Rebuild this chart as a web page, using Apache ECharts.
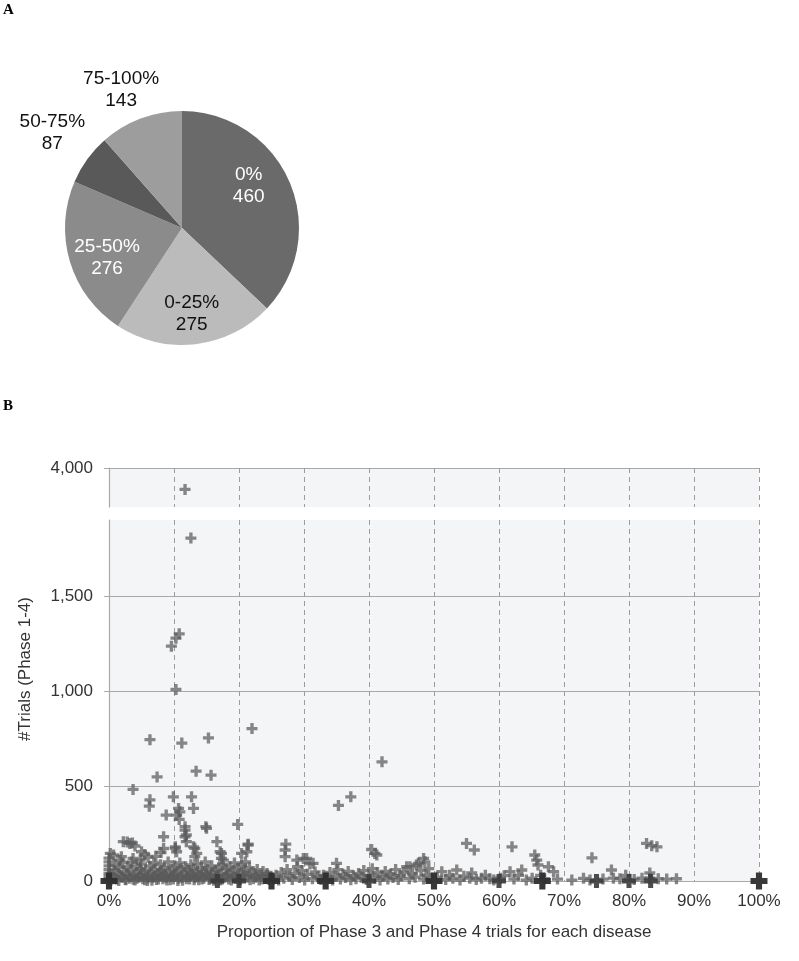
<!DOCTYPE html>
<html><head><meta charset="utf-8">
<script src="https://cdn.jsdelivr.net/npm/echarts@6/dist/echarts.min.js"></script>
<style>html,body{margin:0;padding:0;background:#fff}#c{width:799px;height:961px}</style>
</head><body><div id="c"></div>
<script>
// ---------- Panel A: pie ----------
const pieNames = ['0%', '0-25%', '25-50%', '50-75%', '75-100%'];
const pieValues = [460, 275, 276, 87, 143];
const pieColors = ['#6a6a6a', '#bbbbbb', '#8b8b8b', '#595959', '#9d9d9d'];
const pieLabelColors = ['#ffffff', '#111111', '#ffffff', '#111111', '#111111'];
const pieLabelNudges = [[-10, -9], [0, 3], [5, 6], [4, 2], [-6, 7]];

// ---------- Panel B: scatter ----------
const xTickValues = [0, 10, 20, 30, 40, 50, 60, 70, 80, 90, 100];
const yTicksLower = [0, 500, 1000, 1500];
const yTicksUpper = [4000];

// [proportion %, #trials]
const trialsTop = [[11.7, 3890]];
const trialsHigh = [
  [12.6, 1805], [10.8, 1301], [10.3, 1278], [9.6, 1236], [10.3, 1008],
  [6.3, 744], [11.2, 726], [15.3, 753], [22.0, 802], [42.0, 627],
  [7.4, 548], [13.4, 578], [15.7, 557],
  [3.7, 482], [6.3, 427], [6.2, 394], [9.9, 443], [12.7, 443], [13.0, 382],
  [10.7, 382], [10.9, 364], [10.4, 347], [10.8, 324], [8.8, 347],
  [15.0, 277], [19.8, 298], [11.7, 286], [14.9, 286], [11.7, 268],
  [35.3, 398], [37.2, 443]
];
const trialsMid = [
  [0.2, 145], [0, 101], [1.7, 110], [0.7, 137], [1.9, 128], [0, 120],
  [2.2, 207], [3.2, 198], [4.0, 184], [2.8, 205], [3.6, 200],
  [3.7, 119], [4.8, 110], [5.0, 154], [5.5, 140], [6.0, 125],
  [8.4, 233], [8.4, 171], [8.0, 150], [7.2, 130],
  [11.7, 233], [11.9, 242], [11.9, 207],
  [10.2, 172], [10.4, 154], [10.2, 180],
  [13.0, 180], [13.2, 172], [13.5, 145], [13.2, 128],
  [16.6, 207], [17.1, 154], [17.3, 119], [17.3, 145], [17.6, 110],
  [21.4, 194], [21.4, 189], [21.2, 154], [20.4, 145],
  [27.2, 194], [27.1, 163], [27.1, 128],
  [40.4, 166], [41.2, 137], [40.9, 145],
  [29.9, 119], [30.4, 119], [48.4, 119], [48.6, 101], [28.9, 110], [31.4, 93],
  [55.0, 198], [56.2, 163], [62.0, 180], [65.5, 137], [74.3, 122],
  [82.7, 198], [83.5, 186], [84.3, 180], [35.0, 93]
];
const trialsLow = [
  [0.5, 20], [0.8, 55], [1.0, 85], [1.2, 10], [1.4, 40], [1.6, 70], [1.9, 25], [2.1, 95], [2.3, 50], [2.5, 8],
  [2.7, 35], [2.9, 75], [3.1, 15], [3.3, 60], [3.5, 100], [3.8, 30], [4.0, 5], [4.2, 80], [4.4, 45], [4.6, 20],
  [4.8, 65], [5.0, 90], [5.2, 12], [5.4, 38], [5.6, 58], [5.9, 3], [6.1, 28], [6.3, 78], [6.5, 48], [6.7, 18],
  [6.9, 95], [7.1, 62], [7.3, 8], [7.5, 40], [7.7, 25], [7.9, 85], [8.1, 55], [8.3, 12], [8.5, 70], [8.7, 35],
  [8.9, 5], [9.1, 100], [9.3, 45], [9.5, 22], [9.7, 60], [9.9, 10], [10.1, 80], [10.3, 30], [10.5, 50], [10.7, 15],
  [10.9, 95], [11.1, 65], [11.3, 4], [11.5, 40], [11.8, 75], [12.0, 25], [12.2, 55], [12.4, 10], [12.6, 85], [12.8, 35],
  [13.0, 60], [13.2, 18], [13.4, 45], [13.6, 90], [13.8, 6], [14.0, 30], [14.2, 70], [14.4, 50], [14.6, 15], [14.8, 100],
  [15.0, 38], [15.2, 62], [15.4, 8], [15.6, 25], [15.8, 80], [16.0, 45], [16.2, 12], [16.4, 55], [16.6, 30], [16.9, 70],
  [17.1, 5], [17.3, 40], [17.5, 88], [17.8, 20], [18.0, 60], [18.2, 35], [18.4, 10], [18.6, 75], [18.9, 50], [19.1, 25],
  [19.3, 95], [19.5, 15], [19.8, 65], [20.0, 40], [20.2, 8], [20.4, 85], [20.6, 30], [20.8, 55], [21.0, 100], [21.3, 20],
  [21.6, 70], [21.9, 45], [22.2, 12], [22.5, 35], [22.8, 60], [23.1, 5], [23.4, 28], [23.7, 50], [24.0, 15], [24.3, 40],
  [24.6, 8], [24.9, 25],
  [0.3, 5], [0.9, 12], [1.5, 3], [2.0, 18], [2.6, 6], [3.2, 22], [3.7, 9], [4.3, 14], [4.9, 28], [5.5, 7],
  [6.0, 16], [6.6, 4], [7.0, 24], [7.6, 11], [8.2, 30], [8.8, 19], [9.4, 7], [10.0, 26], [10.6, 3], [11.2, 20],
  [11.9, 12], [12.5, 28], [13.1, 6], [13.7, 22], [14.3, 10], [14.9, 32], [15.5, 14], [16.1, 4], [16.7, 20], [17.4, 9],
  [18.1, 26], [18.8, 5], [19.4, 18], [20.1, 12], [20.9, 28], [21.7, 6], [22.6, 20], [23.5, 10], [24.4, 30],
  [0, 10], [0, 25], [0, 40], [0, 60], [0, 80],
  [25.3, 10], [25.7, 30], [26.1, 5], [26.5, 45], [26.9, 15], [27.4, 60], [27.8, 25], [28.2, 8], [28.6, 40], [29.0, 75],
  [29.3, 18], [29.7, 55], [30.1, 5], [30.5, 35], [30.9, 90], [31.3, 12], [31.7, 48], [32.1, 22], [32.6, 8], [33.0, 30],
  [33.6, 15], [34.0, 45], [34.4, 5], [34.8, 25], [35.2, 60], [35.6, 10], [36.0, 35], [36.4, 18], [36.8, 50], [37.2, 6],
  [37.6, 28], [38.0, 12], [38.4, 40], [38.8, 20], [39.2, 55], [39.6, 8], [40.0, 30], [40.5, 65], [40.9, 15], [41.3, 45],
  [41.7, 5], [42.1, 25], [42.5, 50], [42.9, 10], [43.3, 35], [43.7, 18], [44.1, 60], [44.5, 8], [44.9, 28], [45.3, 45],
  [45.8, 75], [46.2, 12], [46.3, 75], [46.7, 38], [47.1, 20], [47.6, 93], [47.3, 84], [48.0, 55], [48.4, 10], [48.8, 30],
  [49.2, 65], [49.6, 15],
  [50.5, 20], [51.2, 49], [51.8, 8], [52.4, 30], [52.9, 15], [53.5, 58], [54.0, 5], [54.6, 25], [55.5, 15], [55.8, 42],
  [56.5, 8], [57.3, 15], [57.9, 30], [58.6, 12], [59.2, 5], [60.2, 15], [60.8, 28], [61.7, 49], [62.3, 10], [63.0, 30],
  [63.5, 58], [64.2, 5], [65.1, 15], [65.8, 110], [66.0, 84], [66.4, 30], [67.0, 12], [67.6, 75], [68.4, 49], [69.0, 10],
  [71.2, 5], [73.0, 14], [74.0, 5], [76.0, 10], [77.3, 58], [77.6, 15], [78.6, 12], [79.5, 30], [80.8, 8], [82.0, 15],
  [83.2, 15], [83.2, 42], [84.5, 12], [85.8, 10], [87.3, 12]
];
// proportions where many diseases with very few trials pile up at the bottom
const pileBig = [0, 25, 33.33, 50, 66.67, 100];
const pileSmall = [16.67, 20, 40, 60, 75, 80, 83.33];

const FONT = '"Liberation Sans", Arial, Helvetica, sans-serif';
const PLUS = 'path://M4,0H7.5V4H11.5V7.5H7.5V11.5H4V7.5H0V4H4Z';
const PLUS_FAT = 'path://M3.2,0H6.8V3.2H10V6.8H6.8V10H3.2V6.8H0V3.2H3.2Z';
const fmt = v => Number(v).toLocaleString('en-US');

const chart = echarts.init(document.getElementById('c'), null, {renderer: 'canvas'});

function pieData(showIdx) {
  return pieNames.map((n, i) => ({
    name: n, value: pieValues[i],
    itemStyle: {color: 'rgba(0,0,0,0)'},
    label: {show: showIdx.indexOf(i) >= 0, color: pieLabelColors[i]}
  }));
}
const PIE_C = [182, 228];
function labelPie(radius, showIdx) {
  return {
    type: 'pie', center: PIE_C, radius: radius, startAngle: 90, silent: true,
    avoidLabelOverlap: false, labelLine: {show: false},
    label: {position: 'inside', formatter: '{b}\n{c}', fontFamily: FONT, fontSize: 19, lineHeight: 22, align: 'center'},
    labelLayout: function (p) {
      const d = pieLabelNudges[p.dataIndex] || [0, 0];
      return {dx: d[0], dy: d[1]};
    },
    data: pieData(showIdx), z: 5
  };
}

const axisGray = '#a9a9a9';
const xAxisCommon = {
  type: 'value', min: 0, max: 100, interval: 10,
  splitLine: {show: true, lineStyle: {color: '#9c9c9c', type: [5, 4], width: 1}},
  axisTick: {show: false}
};

const option = {
  animation: false,
  backgroundColor: '#ffffff',
  textStyle: {fontFamily: FONT},
  graphic: [
    {type: 'text', left: 3, top: 3, style: {text: 'A', font: 'bold 15px "Liberation Serif", "Times New Roman", serif', fill: '#000'}},
    {type: 'text', left: 3, top: 399, style: {text: 'B', font: 'bold 15px "Liberation Serif", "Times New Roman", serif', fill: '#000'}},
    {type: 'text', x: 25, y: 669, rotation: Math.PI / 2,
     style: {text: '#Trials (Phase 1-4)', font: '17px ' + FONT, fill: '#333', textAlign: 'center', textVerticalAlign: 'middle'}}
  ],
  grid: [
    {left: 109, right: 40, top: 468, height: 39, show: true, backgroundColor: '#f4f5f7', borderWidth: 0},
    {left: 109, right: 40, top: 520, height: 361, show: true, backgroundColor: '#f4f5f7', borderWidth: 0}
  ],
  xAxis: [
    Object.assign({}, xAxisCommon, {gridIndex: 0, axisLine: {show: false}, axisLabel: {show: false}}),
    Object.assign({}, xAxisCommon, {
      gridIndex: 1,
      axisLine: {show: true, lineStyle: {color: axisGray, width: 1.2}},
      axisLabel: {show: true, formatter: '{value}%', customValues: xTickValues, color: '#333', fontSize: 17, fontFamily: FONT, margin: 12},
      name: 'Proportion of Phase 3 and Phase 4 trials for each disease',
      nameLocation: 'middle', nameGap: 43,
      nameTextStyle: {color: '#333', fontSize: 17, fontFamily: FONT}
    })
  ],
  yAxis: [
    {
      type: 'value', gridIndex: 0, min: 3800, max: 4000, interval: 200,
      axisLine: {show: true, lineStyle: {color: axisGray, width: 1.2}},
      axisTick: {show: true, length: 5, customValues: yTicksUpper, lineStyle: {color: axisGray}},
      axisLabel: {customValues: yTicksUpper, formatter: fmt, color: '#333', fontSize: 17, fontFamily: FONT, margin: 16},
      splitLine: {show: true, lineStyle: {color: axisGray, width: 1.2}}
    },
    {
      type: 'value', gridIndex: 1, min: 0, max: 1900, interval: 500,
      axisLine: {show: true, lineStyle: {color: axisGray, width: 1.2}},
      axisTick: {show: true, length: 5, customValues: yTicksLower, lineStyle: {color: axisGray}},
      axisLabel: {customValues: yTicksLower, formatter: fmt, color: '#333', fontSize: 17, fontFamily: FONT, margin: 16},
      splitLine: {show: true, lineStyle: {color: axisGray, width: 1.2}}
    }
  ],
  series: [
    {
      type: 'pie', center: PIE_C, radius: 117, startAngle: 90, silent: true,
      label: {show: false}, labelLine: {show: false},
      data: pieNames.map((n, i) => ({name: n, value: pieValues[i], itemStyle: {color: pieColors[i]}}))
    },
    labelPie(161, [0, 1, 2]),
    labelPie(324, [3]),
    labelPie(304, [4]),
    {
      type: 'scatter', xAxisIndex: 0, yAxisIndex: 0, data: trialsTop, clip: false,
      symbol: PLUS, symbolSize: 11, itemStyle: {color: '#5a5a5a', opacity: 0.72}
    },
    {
      type: 'scatter', xAxisIndex: 1, yAxisIndex: 1, clip: false,
      data: trialsLow.concat(trialsMid, trialsHigh),
      symbol: PLUS, symbolSize: 11, itemStyle: {color: '#5a5a5a', opacity: 0.72}
    },
    {
      type: 'scatter', xAxisIndex: 1, yAxisIndex: 1, clip: false,
      data: pileSmall.map(x => [x, 0]),
      symbol: PLUS_FAT, symbolSize: 14, itemStyle: {color: '#3a3a3a', opacity: 0.9}
    },
    {
      type: 'scatter', xAxisIndex: 1, yAxisIndex: 1, clip: false,
      data: pileBig.map(x => [x, 0]),
      symbol: PLUS_FAT, symbolSize: 17, itemStyle: {color: '#2e2e2e', opacity: 0.95}
    }
  ]
};
chart.setOption(option);
</script>
</body></html>
